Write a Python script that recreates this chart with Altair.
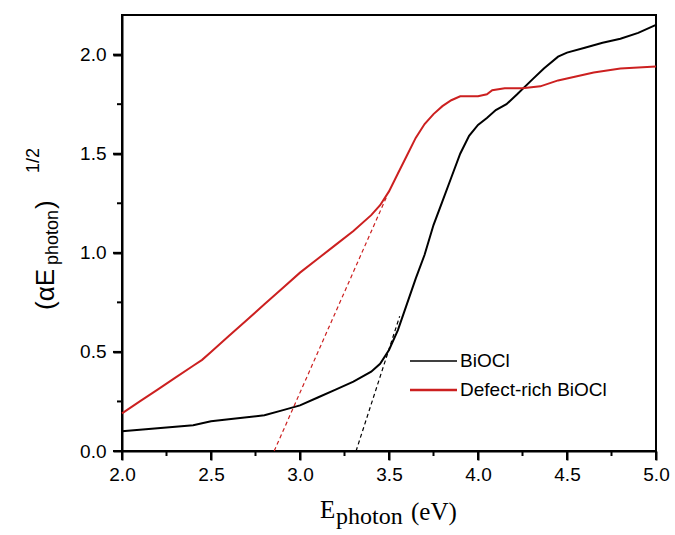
import altair as alt
import pandas as pd

# ---- data ----
biocl_x = [2.0, 2.2, 2.4, 2.5, 2.6, 2.8, 2.9, 3.0, 3.1, 3.2, 3.3, 3.4, 3.45, 3.5, 3.55, 3.6,
           3.65, 3.7, 3.75, 3.8, 3.85, 3.9, 3.95, 4.0, 4.05, 4.1, 4.16, 4.22, 4.3, 4.37, 4.45,
           4.5, 4.6, 4.7, 4.8, 4.9, 5.0]
biocl_y = [0.10, 0.115, 0.13, 0.15, 0.16, 0.18, 0.205, 0.23, 0.27, 0.31, 0.35, 0.40, 0.44, 0.51,
           0.61, 0.74, 0.87, 0.99, 1.14, 1.26, 1.38, 1.50, 1.59, 1.645, 1.68, 1.72, 1.75, 1.80,
           1.87, 1.93, 1.99, 2.01, 2.035, 2.06, 2.08, 2.11, 2.15]

defect_x = [2.0, 2.1, 2.2, 2.3, 2.4, 2.45, 2.5, 2.6, 2.7, 2.8, 2.9, 3.0, 3.1, 3.2, 3.3, 3.4,
            3.45, 3.5, 3.55, 3.6, 3.65, 3.7, 3.75, 3.8, 3.85, 3.9, 4.0, 4.05, 4.08, 4.15, 4.25,
            4.35, 4.45, 4.55, 4.65, 4.8, 5.0]
defect_y = [0.19, 0.25, 0.31, 0.37, 0.43, 0.46, 0.50, 0.58, 0.66, 0.74, 0.82, 0.90, 0.97, 1.04,
            1.11, 1.19, 1.24, 1.31, 1.40, 1.49, 1.58, 1.65, 1.70, 1.74, 1.77, 1.79, 1.79, 1.80,
            1.82, 1.83, 1.83, 1.84, 1.87, 1.89, 1.91, 1.93, 1.94]

# tangent (extrapolation) lines
fit_series = ["BiOCl", "BiOCl", "Defect-rich BiOCl", "Defect-rich BiOCl"]
fit_x = [3.315, 3.56, 2.855, 3.49]
fit_y = [0.0, 0.68, 0.0, 1.29]

series_names = ["BiOCl", "Defect-rich BiOCl"]
series_colors = ["#000000", "#cc2020"]

x_major = [2.0, 2.5, 3.0, 3.5, 4.0, 4.5, 5.0]
x_minor = [2.25, 2.75, 3.25, 3.75, 4.25, 4.75]
y_major = [0.0, 0.5, 1.0, 1.5, 2.0]
y_minor = [0.25, 0.75, 1.25, 1.75]

W, H = 534, 436
SANS = "Liberation Sans"
SERIF = "Liberation Serif"

curves = pd.DataFrame({
    "x": biocl_x + defect_x,
    "y": biocl_y + defect_y,
    "series": ["BiOCl"] * len(biocl_x) + ["Defect-rich BiOCl"] * len(defect_x),
})
fits = pd.DataFrame({"x": fit_x, "y": fit_y, "series": fit_series})

xscale = alt.Scale(domain=[2.0, 5.0], nice=False, zero=False)
yscale = alt.Scale(domain=[0.0, 2.2], nice=False, zero=False)
cscale = alt.Scale(domain=series_names, range=series_colors)

axis_common = dict(title=None, grid=False, labelFont=SANS, labelFontSize=19, labelColor="black",
                   ticks=True, tickSize=9, tickWidth=2, tickColor="#000000", tickOpacity=1,
                   domainColor="black", domainWidth=2, format=".1f", labelFlush=False)
xaxis = alt.Axis(values=x_major, labelPadding=5, **axis_common)
yaxis = alt.Axis(values=y_major, labelPadding=7, **axis_common)

lines = alt.Chart(curves).mark_line(strokeWidth=2).encode(
    x=alt.X("x:Q", scale=xscale, axis=xaxis),
    y=alt.Y("y:Q", scale=yscale, axis=yaxis),
    color=alt.Color("series:N", scale=cscale, legend=None),
)

dashed = alt.Chart(fits).mark_line(strokeWidth=1.2, strokeDash=[4, 3]).encode(
    x=alt.X("x:Q", scale=xscale, axis=xaxis),
    y=alt.Y("y:Q", scale=yscale, axis=yaxis),
    color=alt.Color("series:N", scale=cscale, legend=None),
    detail="series:N",
)

# tick marks (major and minor) drawn through the shared scales
xticks_df = pd.DataFrame({"x": x_major + x_minor,
                          "kind": ["major"] * len(x_major) + ["minor"] * len(x_minor)})
yticks_df = pd.DataFrame({"y": y_major + y_minor,
                          "kind": ["major"] * len(y_major) + ["minor"] * len(y_minor)})

xtick_base = alt.Chart(xticks_df).mark_rule(color="#000000", strokeWidth=2)
ytick_base = alt.Chart(yticks_df).mark_rule(color="#000000", strokeWidth=2)

xmaj = xtick_base.transform_filter("datum.kind == 'major'").encode(
    x=alt.X("x:Q", scale=xscale, axis=xaxis), y=alt.value(H + 1), y2=alt.value(H + 9))
xmin = xtick_base.transform_filter("datum.kind == 'minor'").encode(
    x=alt.X("x:Q", scale=xscale, axis=xaxis), y=alt.value(H + 1), y2=alt.value(H + 5))
ymaj = ytick_base.transform_filter("datum.kind == 'major'").encode(
    y=alt.Y("y:Q", scale=yscale, axis=yaxis), x=alt.value(-1), x2=alt.value(-9))
ymin = ytick_base.transform_filter("datum.kind == 'minor'").encode(
    y=alt.Y("y:Q", scale=yscale, axis=yaxis), x=alt.value(-1), x2=alt.value(-5))


def label(txt, x, y, size, font=SANS, angle=0, baseline="alphabetic"):
    return alt.Chart(pd.DataFrame({"t": [txt]})).mark_text(
        align="left", baseline=baseline, font=font, fontSize=size, angle=angle, color="black"
    ).encode(text="t:N", x=alt.value(x), y=alt.value(y))


# x-axis title: E_photon (eV)
xt = [
    label("E", 198, 503, 25, SERIF),
    label("photon", 214, 509, 24, SERIF),
    label("(eV)", 289, 505, 25, SERIF),
]
# y-axis title: (αE_photon)^1/2
yt = [
    label("(αE", -68, 295, 26, SANS, angle=270),
    label("photon", -64, 250, 18, SANS, angle=270),
    label(")", -68, 194, 26, SANS, angle=270),
    label("1/2", -83, 158, 18, SANS, angle=270),
]

# legend
leg = [
    alt.Chart(pd.DataFrame({"s": ["BiOCl"]})).mark_rule(color=series_colors[0], strokeWidth=1.5).encode(
        x=alt.value(288), x2=alt.value(335), y=alt.value(346)),
    alt.Chart(pd.DataFrame({"s": ["Defect-rich BiOCl"]})).mark_rule(color=series_colors[1], strokeWidth=2.5).encode(
        x=alt.value(288), x2=alt.value(335), y=alt.value(375)),
    label("BiOCl", 338, 346, 19, SANS, baseline="middle"),
    label("Defect-rich BiOCl", 338, 375, 19, SANS, baseline="middle"),
]

chart = alt.layer(lines, dashed, xmin, xmaj, ymin, ymaj, *xt, *yt, *leg).properties(
    width=W, height=H,
    autosize=alt.AutoSizeParams(type="none"),
    padding={"left": 122, "top": 15, "right": 19, "bottom": 84},
    background="white",
).configure_view(stroke="black", strokeWidth=2)

chart.save("out.html", embed_options={"renderer": "svg", "actions": False})
